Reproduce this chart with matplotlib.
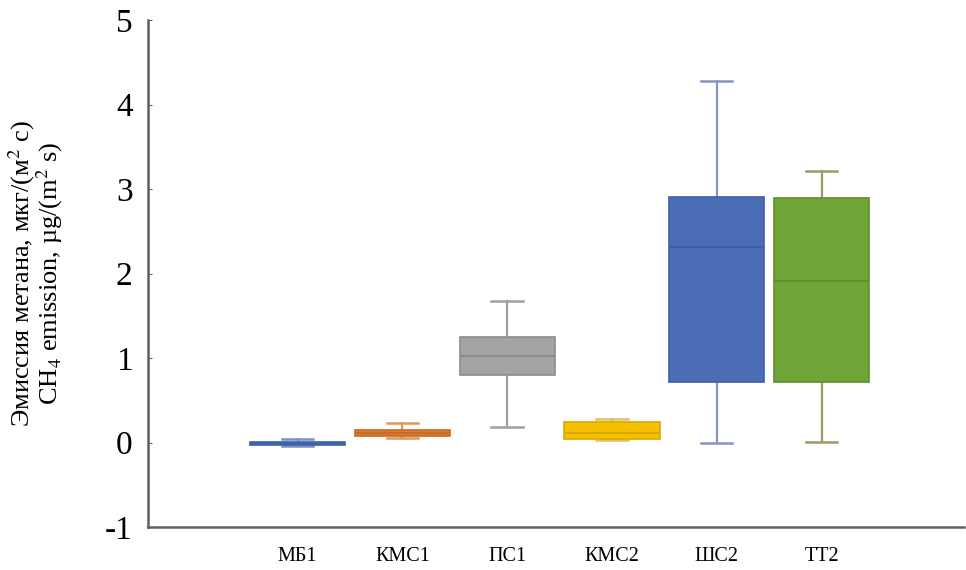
import matplotlib.pyplot as plt

# Подписи площадок
labels = ['МБ1', 'КМС1', 'ПС1', 'КМС2', 'ШС2', 'ТТ2']

# Значения (мкг/(м2 с))
whislo = [-0.04, 0.06, 0.19, 0.03, 0.00, 0.01]
q1 = [-0.03, 0.08, 0.80, 0.04, 0.72, 0.72]
med = [-0.01, 0.11, 1.03, 0.11, 2.32, 1.91]
q3 = [0.01, 0.15, 1.25, 0.25, 2.91, 2.90]
whishi = [0.04, 0.23, 1.68, 0.28, 4.28, 3.21]

face_colors = ['#4a74c0', '#e07a2e', '#a6a3a3', '#f5c000', '#4a6db5', '#70a638']
edge_colors = ['#3d63a8', '#c96a25', '#8e8b8b', '#dba800', '#3e5fa3', '#5e8f2e']
whisk_colors = ['#7d8fbe', '#d9985e', '#a09e9e', '#e0c060', '#8894c4', '#9c9a6a']

plt.rcParams['font.family'] = ['Liberation Serif', 'DejaVu Serif']
plt.rcParams['mathtext.fontset'] = 'stix'

fig = plt.figure(figsize=(9.66, 5.7), dpi=100)
ax = fig.add_axes([0.153, 0.075, 0.845, 0.89])

stats = []
for i in range(len(labels)):
    stats.append({'whislo': whislo[i], 'q1': q1[i], 'med': med[i],
                  'q3': q3[i], 'whishi': whishi[i], 'label': labels[i]})

bp = ax.bxp(stats, positions=range(1, 7), widths=0.91, patch_artist=True,
            showfliers=False, capwidths=0.3)

for i in range(len(labels)):
    bp['boxes'][i].set_facecolor(face_colors[i])
    bp['boxes'][i].set_edgecolor(edge_colors[i])
    bp['boxes'][i].set_linewidth(1.2)
    bp['medians'][i].set_color(edge_colors[i])
    bp['medians'][i].set_linewidth(1.5)
    for j in (2 * i, 2 * i + 1):
        bp['whiskers'][j].set_color(whisk_colors[i])
        bp['whiskers'][j].set_linewidth(1.6)
        bp['caps'][j].set_color(whisk_colors[i])
        bp['caps'][j].set_linewidth(1.8)
    bp['boxes'][i].set_zorder(3)
    bp['medians'][i].set_zorder(4)

ax.set_xlim(-0.43, 7.36)
ax.set_ylim(-1, 5)
ax.set_yticks([-1, 0, 1, 2, 3, 4, 5])
ax.set_yticklabels(['-1', '0', '1', '2', '3', '4', '5'])
ax.tick_params(axis='y', direction='in', length=3, labelsize=24, pad=11, color='#606060')
ax.tick_params(axis='x', length=0, labelsize=14.5, pad=14)

ax.spines['top'].set_visible(False)
ax.spines['right'].set_visible(False)
ax.spines['left'].set_color('#606060')
ax.spines['bottom'].set_color('#606060')
ax.spines['left'].set_linewidth(1.8)
ax.spines['bottom'].set_linewidth(1.8)

ax.set_ylabel('Эмиссия метана, мкг/(м$^2$ с)\nCH$_4$ emission, µg/(m$^2$ s)',
              fontsize=19, linespacing=0.9)
ax.yaxis.set_label_coords(-0.101, 0.5)

fig.savefig('out.png', dpi=100)
